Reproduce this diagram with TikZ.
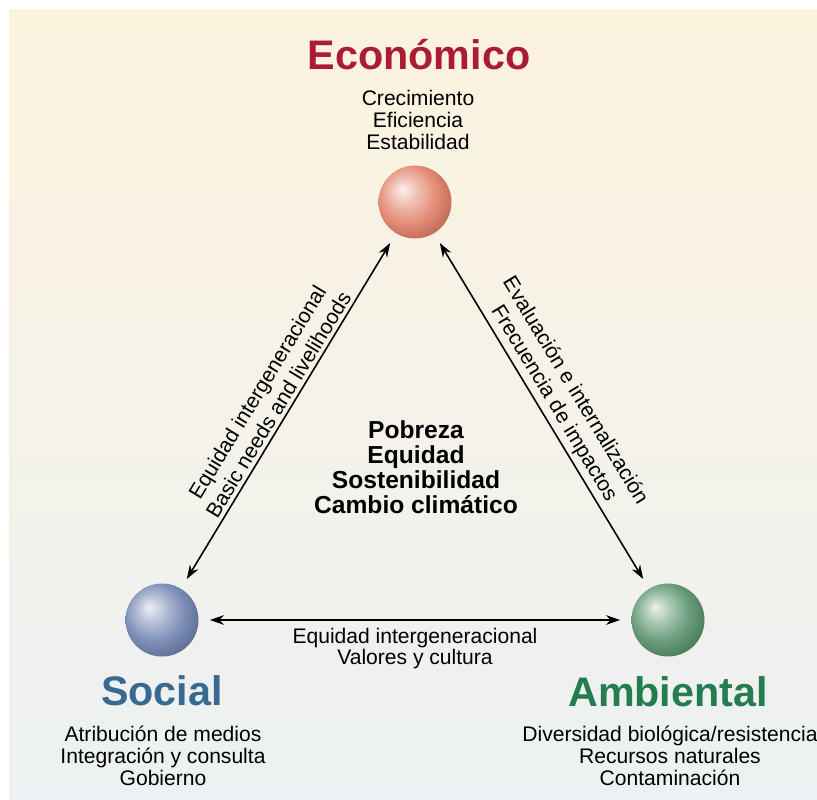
\documentclass[tikz,border=0pt]{standalone}
\usepackage{fontspec}
\setmainfont{Liberation Sans}
\usetikzlibrary{arrows.meta}

\definecolor{bgtop}{RGB}{252,243,222}
\definecolor{bgbot}{RGB}{237,241,243}
\definecolor{econ}{RGB}{170,28,52}
\definecolor{soc}{RGB}{55,105,145}
\definecolor{amb}{RGB}{35,125,80}
\definecolor{econball}{RGB}{226,128,104}
\definecolor{socball}{RGB}{112,132,176}
\definecolor{ambball}{RGB}{88,146,108}
\colorlet{spherecol}{gray}

\pgfdeclareradialshading[spherecol]{softball}{\pgfqpoint{-9bp}{9bp}}{%
  color(0bp)=(spherecol!12!white); color(9bp)=(spherecol!50!white);
  color(20bp)=(spherecol!90!white); color(30bp)=(spherecol!85!black);
  color(50bp)=(spherecol!60!black)}

\begin{document}
\begin{tikzpicture}[x=0.02cm, y=-0.02cm,
    sphere/.style ={circle, minimum size=1.46cm, inner sep=0pt, outer sep=0pt,
                    /utils/exec={\colorlet{spherecol}{#1}}, shading=softball},
    title/.style ={font=\fontsize{23.5}{26}\selectfont\bfseries, text=#1},
    items/.style ={font=\fontsize{12}{12.6}\selectfont, align=center},
    core/.style ={font=\fontsize{14}{14.2}\selectfont\bfseries, align=center},
    link/.style ={{Stealth[length=8pt,width=5.5pt]}-{Stealth[length=8pt,width=5.5pt]},
                  line width=0.9pt, shorten <=6.5pt, shorten >=6.5pt},
    lbl/.style ={font=\fontsize{12}{12.2}\selectfont, align=center, inner sep=2pt}]
   \useasboundingbox (0,0) rectangle (817,800);
   \fill[top color=bgtop, bottom color=bgbot] (9,10) rectangle (817,800);

   \node[sphere=econball] (E) at (415,202) {};
   \node[sphere=socball]  (S) at (162,620) {};
   \node[sphere=ambball]  (A) at (668,620) {};

   \node[title=econ] (Et) at (419,55)  {Económico};
   \node[items]      (Ei) at (418,120) {Crecimiento\\Eficiencia\\Estabilidad};
   \node[title=soc]  (St) at (162,691) {Social};
   \node[items]      (Si) at (163,756) {Atribución de medios\\Integración y consulta\\Gobierno};
   \node[title=amb]  (At) at (668,692) {Ambiental};
   \node[items]      (Ai) at (670,756) {Diversidad biológica/resistencia\\Recursos naturales\\Contaminación};

   \node[core] (C) at (416,467) {Pobreza\\Equidad\\Sostenibilidad\\Cambio climático};

   \draw[link] (S) -- node[lbl, midway, above, sloped, font=\fontsize{12}{14}\selectfont] (SE)
      {Equidad intergeneracional\\Basic needs and livelihoods} (E);
   \draw[link] (E) -- node[lbl, midway, above, sloped, font=\fontsize{12}{14}\selectfont] (EA)
      {Evaluación e internalización\\Frecuencia de impactos} (A);
   \draw[link] (S) -- node[lbl, midway, below, inner sep=4pt] (SA)
      {Equidad intergeneracional\\Valores y cultura} (A);
 \end{tikzpicture}
\end{document}
